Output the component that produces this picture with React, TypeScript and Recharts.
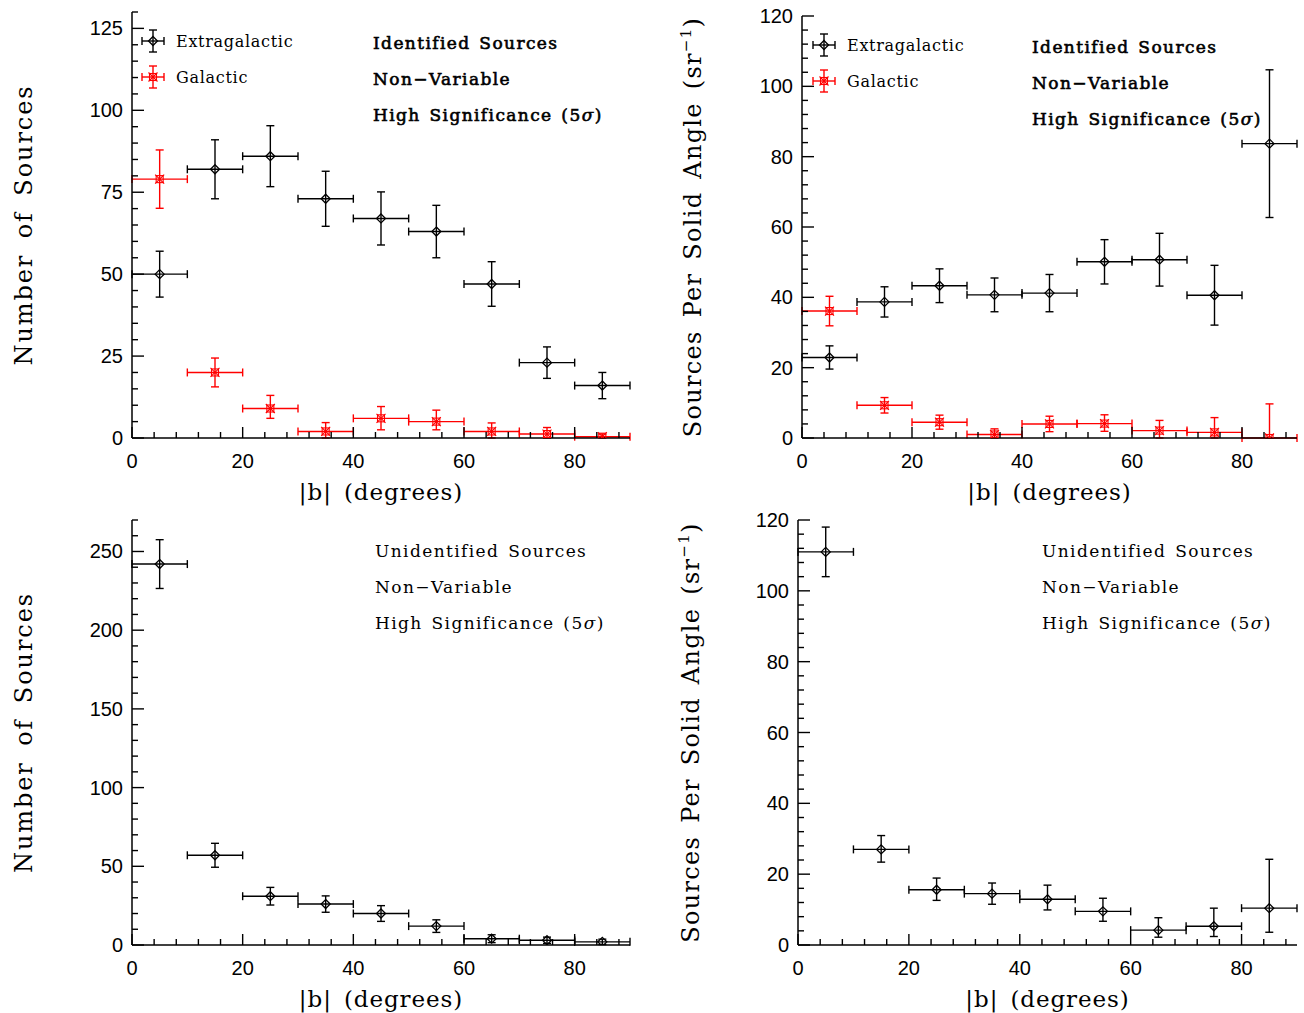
import React from 'react'
import { ScatterChart, Scatter, XAxis, YAxis, ErrorBar } from 'recharts'

// galactic latitude bins (|b|, degrees)
const binCenters = [5, 15, 25, 35, 45, 55, 65, 75, 85]
const binHalfWidths = [5, 5, 5, 5, 5, 5, 5, 5, 5]

// identified, number of sources
const idExtraCount = [50, 82, 86, 73, 67, 63, 47, 23, 16]
const idExtraCountErr = [7, 9, 9.3, 8.4, 8.1, 8, 6.8, 4.8, 4]
const idGalCount = [79, 20, 9, 2, 6, 5, 2, 1.2, 0.4]
const idGalCountErr: [number, number][] = [[8.9, 8.9], [4.4, 4.4], [3, 4], [2, 2.7], [3.5, 3.6], [2.5, 3.5], [2, 2.6], [1.2, 2], [0.4, 0.8]]

// identified, sources per solid angle
const idExtraDensity = [22.9, 38.7, 43.3, 40.7, 41.2, 50.1, 50.7, 40.6, 83.7]
const idExtraDensityErr = [3.3, 4.3, 4.8, 4.8, 5.3, 6.3, 7.5, 8.5, 21]
const idGalDensity = [36.1, 9.3, 4.5, 1.0, 4.0, 4.1, 2.1, 1.6, 0]
const idGalDensityErr: [number, number][] = [[4.2, 4.2], [2.2, 2.2], [2, 2], [1, 1.6], [2.2, 2.2], [2.2, 2.5], [2.1, 2.9], [1.6, 4.2], [0, 9.7]]

// unidentified
const unidCount = [242, 57, 31, 26, 20, 12, 4, 3, 2]
const unidCountErr = [15.5, 7.6, 5.6, 5.2, 5, 4, 2.5, 2, 1.7]
const unidDensity = [111, 27, 15.6, 14.5, 12.9, 9.5, 4.2, 5.3, 10.4]
const unidDensityErr: [number, number][] = [[7, 7], [3.6, 3.9], [3, 3.3], [3, 3], [3, 4], [2.8, 3.7], [2, 3.5], [2.9, 5.1], [6.8, 13.8]]

const xTicks = [0, 4, 8, 12, 16, 20, 24, 28, 32, 36, 40, 44, 48, 52, 56, 60, 64, 68, 72, 76, 80, 84, 88]
const yTicksCount = [0, 5, 10, 15, 20, 25, 30, 35, 40, 45, 50, 55, 60, 65, 70, 75, 80, 85, 90, 95, 100, 105, 110, 115, 120, 125, 130]
const yTicksDensity = [0, 4, 8, 12, 16, 20, 24, 28, 32, 36, 40, 44, 48, 52, 56, 60, 64, 68, 72, 76, 80, 84, 88, 92, 96, 100, 104, 108, 112, 116, 120]
const yTicksUnid = [0, 10, 20, 30, 40, 50, 60, 70, 80, 90, 100, 110, 120, 130, 140, 150, 160, 170, 180, 190, 200, 210, 220, 230, 240, 250, 260, 270]

const annotationTop = ['Identified Sources', 'Non\u2212Variable', 'High Significance (5']
const annotationBottom = ['Unidentified Sources', 'Non\u2212Variable', 'High Significance (5']

const RED = '#ff0000'
const SERIF = '"DejaVu Serif", serif'
const SANS = '"Liberation Sans", Arial, sans-serif'

function rows(ys: number[], errs: (number | [number, number])[]) {
  return binCenters.map((b, i) => ({ x: b, y: ys[i], ex: binHalfWidths[i], ey: errs[i] }))
}

const Diamond = (props: any) => {
  const { cx, cy } = props
  const r = 4.5
  return (
    <polygon
      points={`${cx},${cy - r} ${cx + r},${cy} ${cx},${cy + r} ${cx - r},${cy}`}
      fill="none" stroke="#000" strokeWidth={1.3}
    />
  )
}

const BoxStar = (props: any) => {
  const { cx, cy } = props
  const r = 3.5
  return (
    <g stroke={RED} strokeWidth={1.1} fill="none">
      <rect x={cx - r} y={cy - r} width={2 * r} height={2 * r} />
      <line x1={cx - r - 1} y1={cy - r - 1} x2={cx + r + 1} y2={cy + r + 1} />
      <line x1={cx - r - 1} y1={cy + r + 1} x2={cx + r + 1} y2={cy - r - 1} />
    </g>
  )
}

function xTick(major: number, side: 'bottom' | 'top', label: boolean) {
  return (props: any) => {
    const { x, y, payload } = props
    const isMajor = payload.value % major === 0
    const len = isMajor ? 11 : 6
    const dir = side === 'bottom' ? -1 : 1
    return (
      <g>
        <line x1={x} x2={x} y1={y} y2={y + dir * len} stroke="#000" strokeWidth={1.4} />
        {label && isMajor && (
          <text x={x} y={y + 30} textAnchor="middle" fontFamily={SANS} fontSize={20} fill="#000">
            {payload.value}
          </text>
        )}
      </g>
    )
  }
}

function yTick(major: number, side: 'left' | 'right', label: boolean) {
  return (props: any) => {
    const { x, y, payload } = props
    const isMajor = payload.value % major === 0
    const len = isMajor ? 12 : 6
    const dir = side === 'left' ? 1 : -1
    return (
      <g>
        <line x1={x} x2={x + dir * len} y1={y} y2={y} stroke="#000" strokeWidth={1.4} />
        {label && isMajor && (
          <text x={x - 9} y={y + 7} textAnchor="end" fontFamily={SANS} fontSize={20} fill="#000">
            {payload.value}
          </text>
        )}
      </g>
    )
  }
}

function yTitle(kind: 'count' | 'density', dx: number) {
  return (props: any) => {
    const vb = props.viewBox
    const cx = vb.x + dx
    const cy = vb.y + vb.height / 2
    const count = kind === 'count'
    return (
      <text
        x={cx} y={cy} transform={`rotate(-90 ${cx} ${cy})`} textAnchor="middle"
        fontFamily={SERIF} fontSize={24} fill="#000"
        letterSpacing={count ? 1.9 : 1.3} wordSpacing={count ? 6 : 4}
      >
        {count ? 'Number of Sources' : (
          <>
            Sources Per Solid Angle (sr<tspan dy={-10} fontSize={15}>{'\u22121'}</tspan><tspan dy={10}>)</tspan>
          </>
        )}
      </text>
    )
  }
}

const xTitle = (props: any) => {
  const vb = props.viewBox
  return (
    <text x={vb.x + vb.width / 2} y={vb.y + 62} textAnchor="middle" fontFamily={SERIF} fontSize={23} fill="#000" letterSpacing={0.9} wordSpacing={4}>
      |b| (degrees)
    </text>
  )
}

type Panel = {
  left: number
  top: number
  width: number
  height: number
  axisW: number
  mTop: number
  mRight: number
  mBottom: number
  yMax: number
  yTicks: number[]
  yMajor: number
  kind: 'count' | 'density'
  titleDx: number
  series: { name: string; data: any[]; color: string; shape: any }[]
}

function PanelChart({ p }: { p: Panel }) {
  return (
    <div style={{ position: 'absolute', left: p.left, top: p.top }}>
      <ScatterChart
        width={p.width}
        height={p.height}
        margin={{ top: p.mTop, right: p.mRight, bottom: p.mBottom, left: 0 }}
      >
        <XAxis
          type="number" dataKey="x" domain={[0, 90]} ticks={xTicks} interval={0}
          allowDataOverflow height={60} tickSize={0} tickMargin={0} tickLine={false}
          axisLine={{ stroke: '#000', strokeWidth: 1.5 }} tick={xTick(20, 'bottom', true)}
          label={{ content: xTitle }}
        />
        <XAxis
          xAxisId="top" orientation="top" type="number" domain={[0, 90]} ticks={xTicks} interval={0}
          allowDataOverflow height={0} tickSize={0} tickMargin={0} tickLine={false}
          axisLine={{ stroke: '#000', strokeWidth: 1.5 }} tick={xTick(20, 'top', false)}
        />
        <YAxis
          type="number" dataKey="y" domain={[0, p.yMax]} ticks={p.yTicks} interval={0}
          allowDataOverflow width={p.axisW} tickSize={0} tickMargin={0} tickLine={false}
          axisLine={{ stroke: '#000', strokeWidth: 1.5 }} tick={yTick(p.yMajor, 'left', true)}
          label={{ content: yTitle(p.kind, p.titleDx) }}
        />
        <YAxis
          yAxisId="right" orientation="right" type="number" domain={[0, p.yMax]} ticks={p.yTicks} interval={0}
          allowDataOverflow width={0} tickSize={0} tickMargin={0} tickLine={false}
          axisLine={{ stroke: '#000', strokeWidth: 1.5 }} tick={yTick(p.yMajor, 'right', false)}
        />
        {p.series.map((s) => (
          <Scatter key={s.name} name={s.name} data={s.data} shape={s.shape} isAnimationActive={false}>
            <ErrorBar dataKey="ex" direction="x" width={4} stroke={s.color} strokeWidth={1.4} />
            <ErrorBar dataKey="ey" direction="y" width={4} stroke={s.color} strokeWidth={1.4} />
          </Scatter>
        ))}
      </ScatterChart>
    </div>
  )
}

function LegendBlock({ x, y }: { x: number; y: number }) {
  const items = [
    { label: 'Extragalactic', color: '#000', shape: Diamond },
    { label: 'Galactic', color: RED, shape: BoxStar },
  ]
  return (
    <svg style={{ position: 'absolute', left: x - 14, top: y - 14, overflow: 'visible' }} width={170} height={70}>
      {items.map((it, i) => {
        const cx = 14
        const cy = 14 + i * 36
        const Shape = it.shape
        return (
          <g key={it.label}>
            <g stroke={it.color} strokeWidth={1.4}>
              <line x1={cx - 11} x2={cx + 11} y1={cy} y2={cy} />
              <line x1={cx - 11} x2={cx - 11} y1={cy - 4} y2={cy + 4} />
              <line x1={cx + 11} x2={cx + 11} y1={cy - 4} y2={cy + 4} />
              <line x1={cx} x2={cx} y1={cy - 11} y2={cy + 11} />
              <line x1={cx - 4} x2={cx + 4} y1={cy - 11} y2={cy - 11} />
              <line x1={cx - 4} x2={cx + 4} y1={cy + 11} y2={cy + 11} />
            </g>
            <Shape cx={cx} cy={cy} />
            <text x={cx + 23} y={cy + 6} fontFamily={SERIF} fontSize={16} fill="#000" letterSpacing={0.7}>
              {it.label}
            </text>
          </g>
        )
      })}
    </svg>
  )
}

function Annotation({ x, y, lines, bold }: { x: number; y: number; lines: string[]; bold: boolean }) {
  return (
    <svg style={{ position: 'absolute', left: x, top: y - 20, overflow: 'visible' }} width={260} height={100}>
      {lines.map((t, i) => (
        <text key={t} x={0} y={27 + i * 36} fontFamily={SERIF} fontSize={17}
          fill="#000" stroke={bold ? '#000' : 'none'} strokeWidth={bold ? 0.6 : 0}
          letterSpacing={1.4} wordSpacing={2}>
          {t}
          {i === 2 && (
            <>
              <tspan fontStyle="italic">{'\u03c3'}</tspan>
              <tspan>)</tspan>
            </>
          )}
        </text>
      ))}
    </svg>
  )
}

const panels: Panel[] = [
  {
    left: 0, top: 0, width: 650, height: 515, axisW: 132, mTop: 12, mRight: 20, mBottom: 17,
    yMax: 130, yTicks: yTicksCount, yMajor: 25, kind: 'count', titleDx: 32,
    series: [
      { name: 'Galactic', data: rows(idGalCount, idGalCountErr), color: RED, shape: BoxStar },
      { name: 'Extragalactic', data: rows(idExtraCount, idExtraCountErr), color: '#000', shape: Diamond },
    ],
  },
  {
    left: 660, top: 0, width: 644, height: 515, axisW: 142, mTop: 16, mRight: 7, mBottom: 17,
    yMax: 120, yTicks: yTicksDensity, yMajor: 20, kind: 'density', titleDx: 41,
    series: [
      { name: 'Galactic', data: rows(idGalDensity, idGalDensityErr), color: RED, shape: BoxStar },
      { name: 'Extragalactic', data: rows(idExtraDensity, idExtraDensityErr), color: '#000', shape: Diamond },
    ],
  },
  {
    left: 0, top: 510, width: 650, height: 503, axisW: 132, mTop: 10, mRight: 20, mBottom: 8,
    yMax: 270, yTicks: yTicksUnid, yMajor: 50, kind: 'count', titleDx: 32,
    series: [{ name: 'Unidentified', data: rows(unidCount, unidCountErr), color: '#000', shape: Diamond }],
  },
  {
    left: 660, top: 510, width: 644, height: 503, axisW: 138, mTop: 10, mRight: 7, mBottom: 8,
    yMax: 120, yTicks: yTicksDensity, yMajor: 20, kind: 'density', titleDx: 39,
    series: [{ name: 'Unidentified', data: rows(unidDensity, unidDensityErr), color: '#000', shape: Diamond }],
  },
]

export default function App() {
  return (
    <div style={{ position: 'absolute', left: 0, top: 0, width: 1304, height: 1013, background: '#fff' }}>
      {panels.map((p, i) => (
        <PanelChart key={i} p={p} />
      ))}
      <LegendBlock x={153} y={41} />
      <LegendBlock x={824} y={45} />
      <Annotation x={373} y={42} lines={annotationTop} bold />
      <Annotation x={1032} y={46} lines={annotationTop} bold />
      <Annotation x={375} y={550} lines={annotationBottom} bold={false} />
      <Annotation x={1042} y={550} lines={annotationBottom} bold={false} />
    </div>
  )
}
